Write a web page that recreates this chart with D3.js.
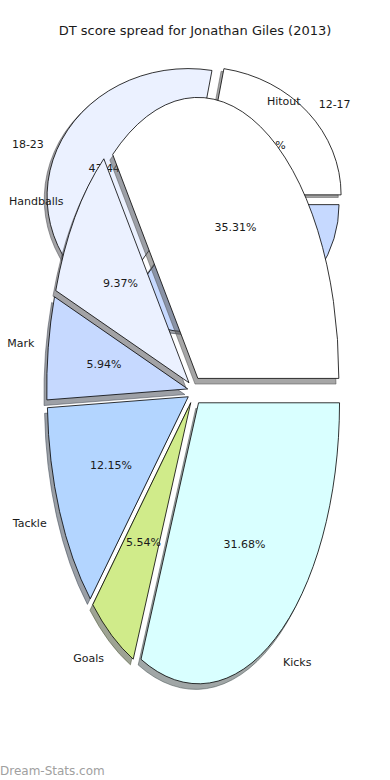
<!DOCTYPE html>
<html>
<head>
<meta charset="utf-8">
<script src="https://cdn.jsdelivr.net/npm/d3@7"></script>
<style>
  body { margin: 0; background: #fff; }
  text { font-family: "DejaVu Sans", sans-serif; fill: #1a1a1a; }
</style>
</head>
<body>
<script>
// front pie: share of the DT score by stat
const statLabels = ['Hitout', 'Handballs', 'Mark', 'Tackle', 'Goals', 'Kicks'];
const statShares = [35.31, 9.37, 5.94, 12.15, 5.54, 31.68];

// back pie: score ranges (mostly hidden behind the front one)
const rangeLabels = ['12-17', '18-23', '24-29'];
const rangeShares = [22.30, 43.44, 34.26];

const colors = ['#ffffff', '#ebf1ff', '#c6d9ff', '#b3d5ff', '#d0eb8a', '#d9ffff'];

const width = 390;
const height = 780;
const explode = 0.05;

const svg = d3.select('body').append('svg')
  .attr('width', width)
  .attr('height', height);

// title
svg.append('text')
  .attr('x', width / 2)
  .attr('y', 30)
  .attr('text-anchor', 'middle')
  .attr('dominant-baseline', 'central')
  .style('font-size', '13px')
  .text('DT score spread for Jonathan Giles (2013)');

// matplotlib-style pie: starts at 3 o'clock, runs counter-clockwise,
// every wedge pushed out a little and a grey shadow under it
function drawPie(labels, values, x, y) {
  const pie = d3.pie().sort(null)
    .startAngle(Math.PI / 2)
    .endAngle(Math.PI / 2 - 2 * Math.PI);
  const arcs = pie(values);
  const arc = d3.arc().innerRadius(0).outerRadius(1);

  const g = svg.append('g')
    .attr('transform', `translate(${x(0)},${y(0)}) scale(${x(1) - x(0)},${y(-1) - y(0)})`);

  const mid = d => (d.startAngle + d.endAngle) / 2;

  // shadows under everything
  g.selectAll('.shadow')
    .data(arcs)
    .enter().append('path')
    .attr('class', 'shadow')
    .attr('transform', d => `translate(${explode * Math.sin(mid(d)) - 0.02},${-explode * Math.cos(mid(d)) + 0.02})`)
    .attr('d', arc)
    .attr('fill', (d, i) => {
      const c = d3.rgb(colors[i % colors.length]);
      return d3.rgb(c.r * 0.3, c.g * 0.3, c.b * 0.3);
    })
    .attr('stroke', (d, i) => {
      const c = d3.rgb(colors[i % colors.length]);
      return d3.rgb(c.r * 0.3, c.g * 0.3, c.b * 0.3);
    })
    .attr('fill-opacity', 0.5)
    .attr('stroke-opacity', 0.5)
    .attr('stroke-width', 1)
    .attr('vector-effect', 'non-scaling-stroke');

  g.selectAll('.wedge')
    .data(arcs)
    .enter().append('path')
    .attr('class', 'wedge')
    .attr('transform', d => `translate(${explode * Math.sin(mid(d))},${-explode * Math.cos(mid(d))})`)
    .attr('d', arc)
    .attr('fill', (d, i) => colors[i % colors.length])
    .attr('stroke', '#000')
    .attr('stroke-width', 0.8)
    .attr('vector-effect', 'non-scaling-stroke');

  // category labels at 1.1 radius (+ explode)
  svg.append('g').selectAll('text')
    .data(arcs)
    .enter().append('text')
    .attr('x', d => x((1.1 + explode) * Math.sin(mid(d))))
    .attr('y', d => y((1.1 + explode) * Math.cos(mid(d))))
    .attr('text-anchor', d => Math.sin(mid(d)) > 0 ? 'start' : 'end')
    .attr('dominant-baseline', 'central')
    .style('font-size', '11px')
    .text((d, i) => labels[i]);

  // percentages at 0.6 radius (+ explode)
  svg.append('g').selectAll('text')
    .data(arcs)
    .enter().append('text')
    .attr('x', d => x((0.6 + explode) * Math.sin(mid(d))))
    .attr('y', d => y((0.6 + explode) * Math.cos(mid(d))))
    .attr('text-anchor', 'middle')
    .attr('dominant-baseline', 'central')
    .style('font-size', '11px')
    .text(d => d.value.toFixed(2) + '%');
}

// back pie first
const xBack = d3.scaleLinear().domain([-1, 1]).range([194.7 - 141, 194.7 + 141]);
const yBack = d3.scaleLinear().domain([-1, 1]).range([199 + 128, 199 - 128]);
drawPie(rangeLabels, rangeShares, xBack, yBack);

// front pie on top
const xFront = d3.scaleLinear().domain([-1, 1]).range([194.7 - 141, 194.7 + 141]);
const yFront = d3.scaleLinear().domain([-1, 1]).range([391 + 281, 391 - 281]);
drawPie(statLabels, statShares, xFront, yFront);

// watermark
svg.append('text')
  .attr('x', 0)
  .attr('y', 775)
  .style('font-size', '12px')
  .style('fill', '#a0a0a0')
  .text('Dream-Stats.com');
</script>
</body>
</html>
